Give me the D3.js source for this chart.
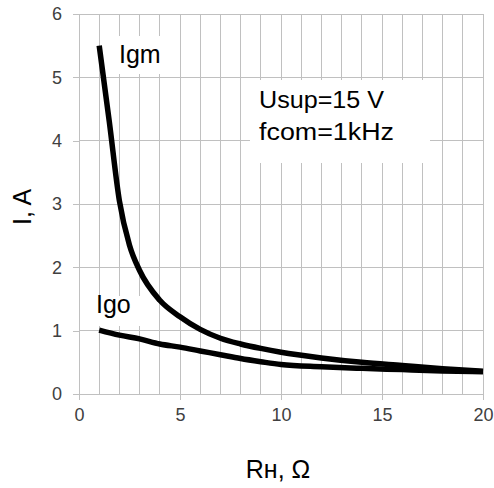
<!DOCTYPE html>
<html><head><meta charset="utf-8">
<script src="https://cdn.jsdelivr.net/npm/d3@7/dist/d3.min.js"></script>
<style>
html,body{margin:0;padding:0;background:#fff;}
svg{display:block;font-family:"Liberation Sans",Arial,sans-serif;}
</style></head>
<body>
<script>
// Data
const rIgm = [1,1.5,2,2.5,3,4,5,6,7,8,9,10,12,14,16,18,20];
const igm  = [5.5,4.3,3.05,2.35,1.95,1.48,1.22,1.02,0.88,0.79,0.72,0.66,0.57,0.5,0.45,0.4,0.36];
const rIgo = [1,2,3,4,5,6,7,8,9,10,12,14,16,18,20];
const igo  = [1.01,0.93,0.87,0.79,0.74,0.68,0.62,0.56,0.51,0.465,0.43,0.405,0.385,0.365,0.35];
const xTickLabels = [0,5,10,15,20];
const yTickLabels = [0,1,2,3,4,5,6];
const seriesNames = ["Igm","Igo"];
const noteLines = ["Usup=15 V","fcom=1kHz"];
const xTitle = "Rн, Ω";
const yTitle = "I, A";

const W = 494, H = 488;
const svg = d3.select("body").append("svg").attr("width", W).attr("height", H);
const x = d3.scaleLinear().domain([0,20]).range([79,483]);
const y = d3.scaleLinear().domain([0,6]).range([394,14]);
const grid = "#c0c0c0";

// grid
const g = svg.append("g");
g.selectAll(".vx").data(d3.range(1,21)).join("line")
  .attr("x1", d=>x(d)).attr("x2", d=>x(d)).attr("y1", y(0)).attr("y2", y(6))
  .attr("stroke", grid).attr("stroke-width",1).attr("shape-rendering","crispEdges");
g.selectAll(".hy").data(d3.range(1,7)).join("line")
  .attr("x1", x(0)).attr("x2", x(20)).attr("y1", d=>y(d)).attr("y2", d=>y(d))
  .attr("stroke", grid).attr("stroke-width",1).attr("shape-rendering","crispEdges");

// white label boxes hiding grid
svg.append("rect").attr("x",112).attr("y",36).attr("width",58).attr("height",38).attr("fill","#fff");
svg.append("rect").attr("x",250).attr("y",80).attr("width",180).attr("height",83).attr("fill","#fff");
svg.append("rect").attr("x",90).attr("y",296).attr("width",62).attr("height",30).attr("fill","#fff");

// axes
const xa = svg.append("g").attr("transform",`translate(0,${y(0)})`)
  .call(d3.axisBottom(x).tickValues(xTickLabels).tickSize(6).tickPadding(8).tickFormat(d3.format("d")));
const ya = svg.append("g").attr("transform",`translate(${x(0)},0)`)
  .call(d3.axisLeft(y).tickValues(yTickLabels).tickSize(6).tickPadding(11).tickFormat(d3.format("d")));
[xa,ya].forEach(a=>{
  a.selectAll("path,line").attr("stroke",grid).attr("shape-rendering","crispEdges");
  a.select(".domain").attr("d", null);
  a.selectAll("text").attr("font-size",18).attr("fill","#404040")
   .attr("font-family","'Liberation Sans',Arial,sans-serif");
});
svg.append("line").attr("x1",x(0)).attr("x2",x(20)).attr("y1",y(0)).attr("y2",y(0))
  .attr("stroke",grid).attr("shape-rendering","crispEdges");
svg.append("line").attr("x1",x(0)).attr("x2",x(0)).attr("y1",y(0)).attr("y2",y(6))
  .attr("stroke",grid).attr("shape-rendering","crispEdges");

// curves
const line = d3.line().x(d=>x(d[0])).y(d=>y(d[1])).curve(d3.curveMonotoneX);
const s1 = rIgm.map((r,i)=>[r,igm[i]]);
const s2 = rIgo.map((r,i)=>[r,igo[i]]);
[s1,s2].forEach(s=>{
  svg.append("path").attr("d", line(s)).attr("fill","none").attr("stroke","#000")
    .attr("stroke-width",5.5).attr("stroke-linecap","butt").attr("stroke-linejoin","round");
});

// labels
svg.append("text").attr("x",119).attr("y",63).attr("font-size",25).text(seriesNames[0]);
svg.append("text").attr("x",96).attr("y",313).attr("font-size",25).text(seriesNames[1]);
svg.append("text").attr("x",259).attr("y",108).attr("font-size",23)
  .attr("textLength",125).attr("lengthAdjust","spacingAndGlyphs").text(noteLines[0]);
svg.append("text").attr("x",259).attr("y",140).attr("font-size",23)
  .attr("textLength",135).attr("lengthAdjust","spacingAndGlyphs").text(noteLines[1]);

// axis titles
svg.append("text").attr("x",278).attr("y",478).attr("font-size",25)
  .attr("text-anchor","middle").text(xTitle);
svg.append("text").attr("transform","translate(31,207) rotate(-90)").attr("font-size",25)
  .attr("text-anchor","middle").text(yTitle);
</script>
</body></html>
